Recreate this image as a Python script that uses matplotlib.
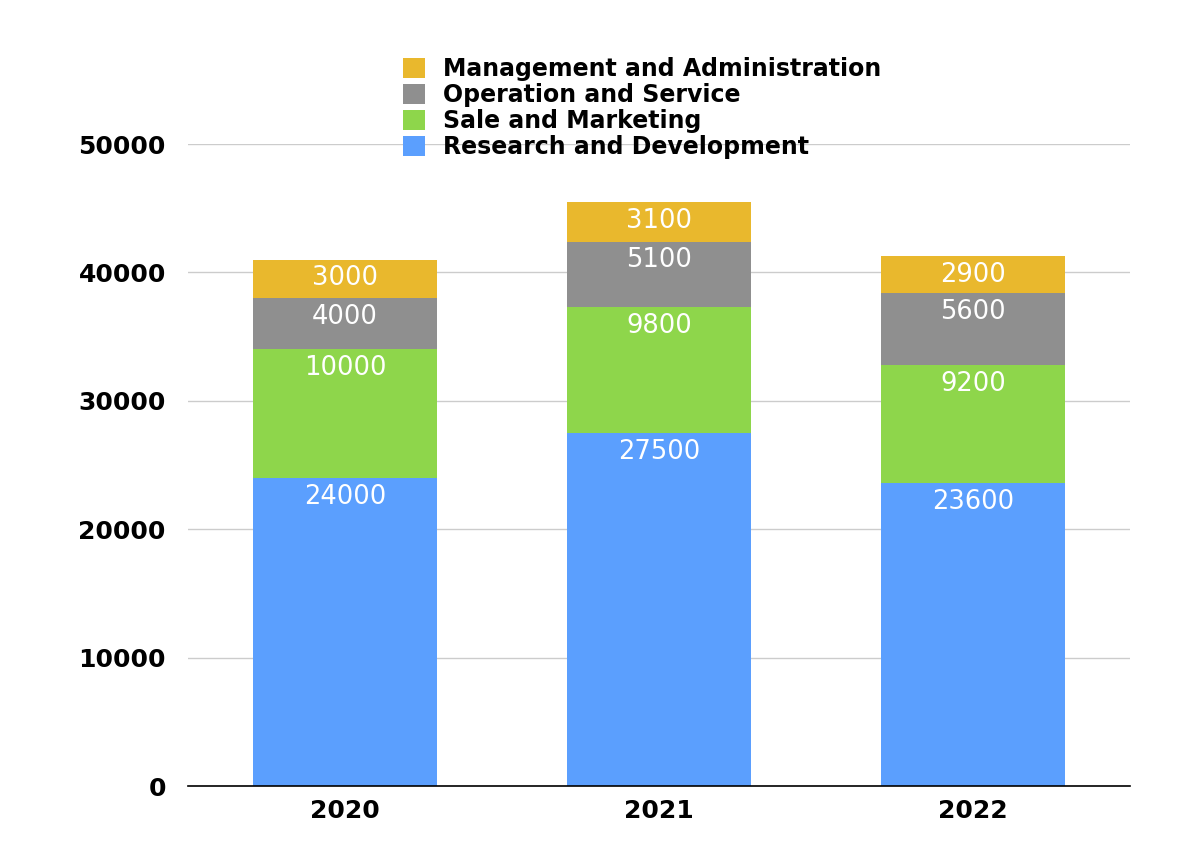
import matplotlib
matplotlib.use('Agg')
import matplotlib.pyplot as plt
import numpy as np

plt.rcParams['font.family'] = ['DejaVu Sans']

# data
years = ['2020', '2021', '2022']
categories = ['Research and Development', 'Sale and Marketing',
              'Operation and Service', 'Management and Administration']
research = [24000, 27500, 23600]
sales = [10000, 9800, 9200]
operation = [4000, 5100, 5600]
management = [3000, 3100, 2900]
colors = ['#5B9FFE', '#8ED64B', '#8F8F8F', '#E9B82D']

series = [research, sales, operation, management]

fig = plt.figure(figsize=(12, 8.65), dpi=100)
ax = fig.add_axes([0.1567, 0.0913, 0.785, 0.7422])

x = np.arange(len(years))
bottom = np.zeros(len(years))
handles = []
for vals, name, c in zip(series, categories, colors):
    vals = np.array(vals)
    b = ax.bar(x, vals, 0.586, bottom=bottom, color=c, label=name, zorder=3)
    handles.append(b)
    for xi, v, btm in zip(x, vals, bottom):
        ax.text(xi, btm + v - 450, str(v), ha='center', va='top',
                color='white', fontsize=18.5, zorder=4)
    bottom += vals

ax.set_xlim(-0.5, 2.5)
ax.set_ylim(0, 50000)
ax.set_yticks(range(0, 50001, 10000))
ax.set_xticks(x)
ax.set_xticklabels(years)
ax.tick_params(axis='y', length=0, labelsize=18, pad=16)
ax.tick_params(axis='x', length=0, labelsize=18, pad=9)
for lab in ax.get_xticklabels() + ax.get_yticklabels():
    lab.set_fontweight('bold')
ax.yaxis.grid(True, color='#CCCCCC', linewidth=1, zorder=0)
for s in ['top', 'right', 'left']:
    ax.spines[s].set_visible(False)
ax.spines['bottom'].set_color('black')
ax.spines['bottom'].set_linewidth(1.2)
ax.spines['bottom'].set_zorder(5)

leg = fig.legend(handles[::-1], categories[::-1], loc='upper left',
                 bbox_to_anchor=(0.336, 0.934), frameon=False, fontsize=17,
                 handlelength=0.93, handleheight=0.93, handletextpad=0.76,
                 labelspacing=0.08, borderpad=0, borderaxespad=0)
for t in leg.get_texts():
    t.set_fontweight('semibold')

plt.savefig('out.png')
